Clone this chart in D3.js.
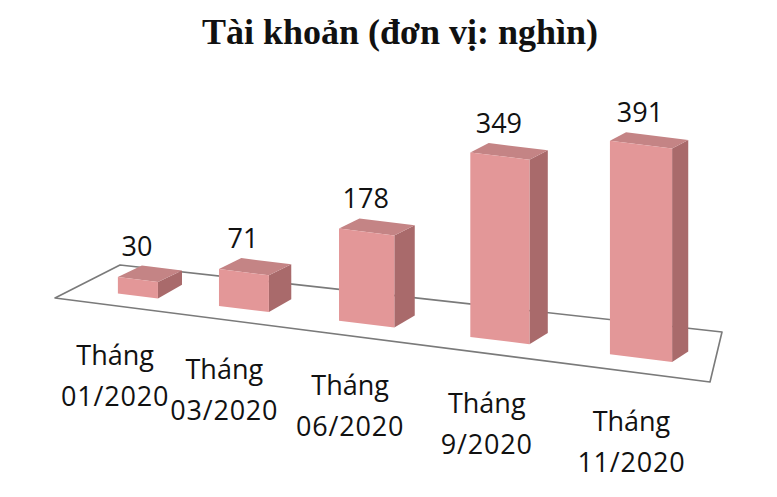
<!DOCTYPE html>
<html><head><meta charset="utf-8">
<script src="https://cdn.jsdelivr.net/npm/d3@7"></script>
<style>body{margin:0;background:#fff}</style></head>
<body>
<svg id="c" width="777" height="497"></svg>
<script>
// ---- data ----
const categories = ["Tháng 01/2020", "Tháng 03/2020", "Tháng 06/2020", "Tháng 9/2020", "Tháng 11/2020"];
const values = [30, 71, 178, 349, 391];
const titleText = "Tài khoản (đơn vị: nghìn)";
const valueDomain = [0, 400];

// ---- drawing ----
const W = 777, H = 497;
const svg = d3.select("#c");
svg.append("rect").attr("width", W).attr("height", H).attr("fill", "#fff");

// floor quadrilateral (front-left, front-right, back-left, back-right)
const FL = [55, 298], FR = [710, 382], BL = [120, 265], BR = [722, 332];
function floorPt(u, v) {
  const fx = FL[0] + (FR[0] - FL[0]) * u, fy = FL[1] + (FR[1] - FL[1]) * u;
  const bx = BL[0] + (BR[0] - BL[0]) * u, by = BL[1] + (BR[1] - BL[1]) * u;
  return [fx + (bx - fx) * v, fy + (by - fy) * v];
}

svg.append("polygon")
  .attr("points", [FL, FR, BR, BL].map(p => p.join(",")).join(" "))
  .attr("fill", "#fff").attr("stroke", "#7a7a7a").attr("stroke-width", 1.6)
  .attr("stroke-linejoin", "round");

const band = d3.scaleBand().domain(categories).range([0, 1]).paddingInner(0.57).paddingOuter(0.3);
const persp = d3.scalePow().exponent(1.2).domain([0, 1]).range([0.035, 1.004]);
const hScale = d3.scaleLinear().domain(valueDomain).range([0, 188]);

const data = categories.map((c, i) => ({ c, v: values[i] }));
const line = pts => "M" + pts.map(p => p.join(",")).join("L") + "Z";
const fontSans = "'Open Sans', 'Noto Sans', sans-serif";

data.forEach(d => {
  const t0 = band(d.c), bw = band.bandwidth();
  const u0 = persp(t0), u1 = persp(t0 + bw), uc = persp(t0 + bw / 2);
  const v0 = 0.3;
  const p0 = floorPt(u0, v0), p1 = floorPt(u1, v0);
  const h = hScale(d.v) * (1 + 0.17 * uc) + 2;
  const dx = 25 - 10 * uc, dy = -(12 - 4 * uc);
  const q0 = [p0[0], p0[1] - h], q1 = [p1[0], p1[1] - h];
  const g = svg.append("g");
  // side face
  g.append("path").attr("d", line([p1, q1, [q1[0] + dx, q1[1] + dy], [p1[0] + dx, p1[1] + dy - 2]]))
    .attr("fill", "#a96a6b");
  // top face
  g.append("path").attr("d", line([q0, q1, [q1[0] + dx, q1[1] + dy], [q0[0] + dx, q0[1] + dy]]))
    .attr("fill", "#c48485");
  // front face
  g.append("path").attr("d", line([p0, p1, q1, q0])).attr("fill", "#e39798");
  // value label
  svg.append("text")
    .attr("x", (p0[0] + p1[0]) / 2 - 1)
    .attr("y", Math.min(q0[1], q1[1]) + dy - 10)
    .attr("text-anchor", "middle")
    .attr("font-family", fontSans).attr("font-size", 27).attr("fill", "#111")
    .text(d.v);
  // category label
  const fp = floorPt(uc, 0);
  const parts = d.c.split(" ");
  const tx = svg.append("text")
    .attr("text-anchor", "middle")
    .attr("font-family", fontSans).attr("font-size", 27).attr("fill", "#111");
  tx.append("tspan").attr("x", fp[0] - 4).attr("y", fp[1] + 59).text(parts[0]);
  tx.append("tspan").attr("x", fp[0] - 4).attr("y", fp[1] + 100)
    .attr("letter-spacing", 0.8).text(parts.slice(1).join(" "));
});

// title
svg.append("text")
  .attr("x", 400).attr("y", 44).attr("text-anchor", "middle")
  .attr("font-family", "'Liberation Serif', 'Times New Roman', serif")
  .attr("font-weight", "bold").attr("font-size", 36).attr("fill", "#111")
  .text(titleText);
</script>
</body></html>
